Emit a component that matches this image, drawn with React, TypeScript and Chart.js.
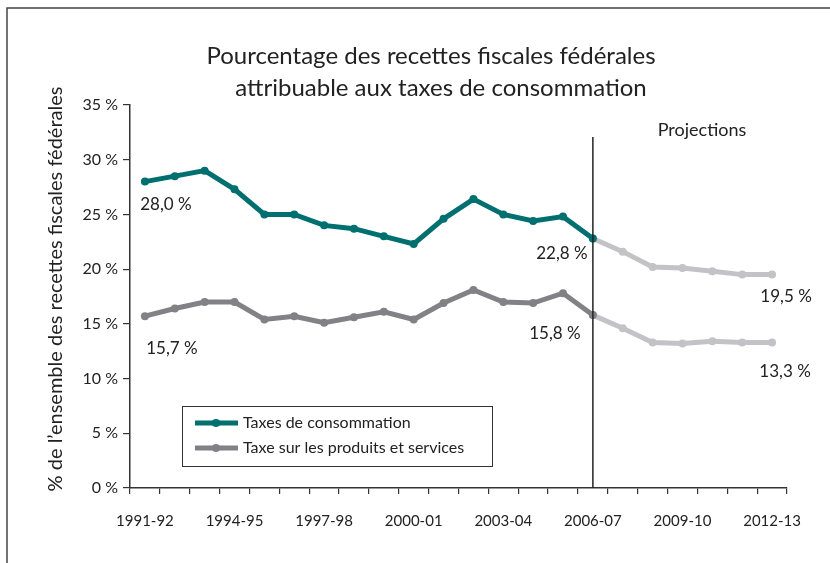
import React, { useEffect, useRef } from "react";
import { Chart, registerables } from "chart.js";

Chart.register(...registerables);

const years = [
  "1991-92", "1992-93", "1993-94", "1994-95", "1995-96", "1996-97", "1997-98", "1998-99",
  "1999-00", "2000-01", "2001-02", "2002-03", "2003-04", "2004-05", "2005-06", "2006-07",
  "2007-08", "2008-09", "2009-10", "2010-11", "2011-12", "2012-13",
];
const shownYearLabels = ["1991-92", "1994-95", "1997-98", "2000-01", "2003-04", "2006-07", "2009-10", "2012-13"];

const consumptionActual = [28.0, 28.5, 29.0, 27.3, 25.0, 25.0, 24.0, 23.7, 23.0, 22.3, 24.6, 26.4, 25.0, 24.4, 24.8, 22.8];
const consumptionProjected = [22.8, 21.6, 20.2, 20.1, 19.8, 19.5, 19.5];
const gstActual = [15.7, 16.4, 17.0, 17.0, 15.4, 15.7, 15.1, 15.6, 16.1, 15.4, 16.9, 18.1, 17.0, 16.9, 17.8, 15.8];
const gstProjected = [15.8, 14.6, 13.3, 13.2, 13.4, 13.3, 13.3];

const yTicks = [0, 5, 10, 15, 20, 25, 30, 35];

const seriesNames = ["Taxes de consommation", "Taxe sur les produits et services"];
const titleLines = ["Pourcentage des recettes fiscales fédérales", "attribuable aux taxes de consommation"];
const yTitle = "% de l\u2019ensemble des recettes fiscales fédérales";
const projectionLabel = "Projections";

const TEAL = "#006f6f";
const GRAY = "#818186";
const LIGHT = "#c3c3c7";
const FONT = "Lato, 'Noto Sans', sans-serif";

const fmt = (v: number) => v.toFixed(1).replace(".", ",") + " %";

const padLeft = (n: number) => Array(n).fill(null);

export default function App() {
  const ref = useRef<HTMLCanvasElement | null>(null);

  useEffect(() => {
    document.body.style.margin = "0";
    const canvas = ref.current;
    if (!canvas) return;

    const projStart = consumptionActual.length - 1;

    const overlay = {
      id: "overlay",
      afterDraw(chart: any) {
        const ctx = chart.ctx as CanvasRenderingContext2D;
        const xs = chart.scales.x;
        const ys = chart.scales.y;
        ctx.save();
        // outer frame (top and left edges visible)
        ctx.strokeStyle = "#444";
        ctx.lineWidth = 1.5;
        ctx.strokeRect(7, 8, 840, 600);

        // title
        ctx.fillStyle = "#222";
        ctx.font = `24px ${FONT}`;
        ctx.textAlign = "center";
        ctx.textBaseline = "middle";
        ctx.fillText(titleLines[0], 431, 56);
        ctx.fillText(titleLines[1], 441, 88);

        // y title
        ctx.save();
        ctx.translate(56, 289);
        ctx.rotate(-Math.PI / 2);
        ctx.font = `20px ${FONT}`;
        ctx.fillText(yTitle, 0, 0);
        ctx.restore();

        // projection divider
        const xp = xs.getPixelForValue(projStart);
        ctx.strokeStyle = "#222";
        ctx.lineWidth = 1.5;
        ctx.beginPath();
        ctx.moveTo(xp, 137);
        ctx.lineTo(xp, ys.bottom);
        ctx.stroke();
        ctx.font = `18px ${FONT}`;
        ctx.fillStyle = "#222";
        ctx.fillText(projectionLabel, 702, 130);

        // value annotations
        ctx.font = `17px ${FONT}`;
        const last = years.length - 1;
        const ann = [
          { i: 0, v: consumptionActual[0], dx: 21, dy: 23 },
          { i: projStart, v: consumptionActual[projStart], dx: -31, dy: 15 },
          { i: 0, v: gstActual[0], dx: 27, dy: 32 },
          { i: projStart, v: gstActual[projStart], dx: -38, dy: 18 },
          { i: last, v: consumptionProjected[consumptionProjected.length - 1], dx: 14, dy: 22 },
          { i: last, v: gstProjected[gstProjected.length - 1], dx: 13, dy: 29 },
        ];
        ann.forEach((a) => {
          ctx.fillText(fmt(a.v), xs.getPixelForValue(a.i) + a.dx, ys.getPixelForValue(a.v) + a.dy);
        });

        // legend
        ctx.strokeStyle = "#333";
        ctx.lineWidth = 1;
        ctx.strokeRect(182.5, 406.5, 310, 60);
        const items = [
          { name: seriesNames[0], color: TEAL, y: 423 },
          { name: seriesNames[1], color: GRAY, y: 448 },
        ];
        ctx.textAlign = "left";
        ctx.font = `16px ${FONT}`;
        items.forEach((it) => {
          ctx.strokeStyle = it.color;
          ctx.lineWidth = 5;
          ctx.beginPath();
          ctx.moveTo(195, it.y);
          ctx.lineTo(238, it.y);
          ctx.stroke();
          ctx.fillStyle = it.color;
          ctx.beginPath();
          ctx.arc(216, it.y, 4, 0, Math.PI * 2);
          ctx.fill();
          ctx.fillStyle = "#222";
          ctx.fillText(it.name, 243, it.y);
        });
        ctx.restore();
      },
    };

    const ds = (data: (number | null)[], color: string) => ({
      data,
      borderColor: color,
      backgroundColor: color,
      pointBackgroundColor: color,
      pointBorderColor: color,
      borderWidth: 5,
      pointRadius: 4,
      pointBorderWidth: 0,
      tension: 0,
      spanGaps: false,
    });

    const chart = new Chart(canvas, {
      type: "line",
      data: {
        labels: years,
        datasets: [
          ds(consumptionActual, TEAL),
          ds(gstActual, GRAY),
          ds([...padLeft(projStart), ...consumptionProjected], LIGHT),
          ds([...padLeft(projStart), ...gstProjected], LIGHT),
        ],
      },
      options: {
        animation: false,
        responsive: false,
        maintainAspectRatio: false,
        layout: { padding: { top: 105, right: 43, left: 0, bottom: 0 } },
        plugins: { legend: { display: false }, tooltip: { enabled: false }, title: { display: false } },
        scales: {
          x: {
            type: "category",
            offset: true,
            grid: { offset: true, drawOnChartArea: false, drawTicks: true, tickLength: 6, color: "#333", lineWidth: 1.2 },
            border: { display: true, color: "#333", width: 1.5 },
            ticks: {
              autoSkip: false,
              maxRotation: 0,
              minRotation: 0,
              padding: 18,
              color: "#222",
              font: { family: FONT, size: 15 },
              callback: (_v: any, i: number) => (shownYearLabels.includes(years[i]) ? years[i] : ""),
            },
            afterFit: (s: any) => { s.height = 75; },
          },
          y: {
            min: 0,
            max: 35,
            afterBuildTicks: (s: any) => { s.ticks = yTicks.map((v) => ({ value: v })); },
            grid: { drawOnChartArea: false, drawTicks: true, tickLength: 7, color: "#333", lineWidth: 1.2 },
            border: { display: true, color: "#333", width: 1.5 },
            ticks: {
              padding: 5,
              color: "#222",
              font: { family: FONT, size: 16 },
              callback: (v: any) => `${v} %`,
            },
            afterFit: (s: any) => { s.width = 130; },
          },
        },
      },
      plugins: [overlay],
    });

    return () => chart.destroy();
  }, []);

  return <canvas ref={ref} width={830} height={563} style={{ display: "block" }} />;
}
